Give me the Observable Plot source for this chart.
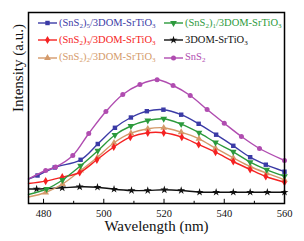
<!DOCTYPE html>
<html><head><meta charset="utf-8">
<script src="https://cdn.jsdelivr.net/npm/d3@7"></script>
<script src="https://cdn.jsdelivr.net/npm/@observablehq/plot@0.6"></script>
<style>
body{margin:0;background:#fff;}
#wrap{position:relative;width:304px;height:241px;font-family:"Liberation Serif",serif;}
#wrap svg, #wrap svg text{font-family:"Liberation Serif",serif !important;}
.leg{position:absolute;height:14px;display:flex;align-items:center;font-size:10.5px;white-space:nowrap;line-height:1;font-family:"Liberation Serif",serif;}
.leg svg{margin-right:2px;overflow:visible;}
.leg sub{font-size:7px;vertical-align:-2px;line-height:0;}
</style></head><body><div id="wrap"></div>
<script>
// Wavelength (nm) and intensity (a.u.)
const sns5Nm  = [475, 478, 483.7, 492.3, 498, 503.7, 509, 514.3, 519.8, 525.7, 531.5, 537.3, 543, 548.6, 553.8, 560];
const sns5Int = [245, 280, 360, 437, 595, 757, 860, 923, 938, 888, 797, 688, 577, 463, 388, 318];
const sns1Nm  = [475, 481, 486.3, 492.3, 498, 503.7, 509, 514.6, 519.9, 525.7, 531.6, 537.1, 543, 548.6, 554.1, 560];
const sns1Int = [90, 145, 235, 377, 527, 685, 775, 830, 847, 793, 708, 610, 517, 413, 337, 273];
const sns3Nm  = [475, 480.7, 486.2, 492, 497.7, 503.3, 508.8, 514.6, 519.9, 525.9, 531.5, 537.1, 543, 548.6, 553.8, 560];
const sns3Int = [200, 224, 263, 310, 437, 565, 663, 707, 707, 663, 590, 513, 420, 340, 270, 213];
const dsNm    = [475, 477.7, 486.2, 492, 497.9, 503.4, 509.2, 514.6, 520.1, 525.7, 531.8, 537.3, 543, 548.6, 554.3, 560];
const dsInt   = [145, 145, 157, 167, 163, 143, 130, 130, 137, 130, 113, 113, 113, 113, 113, 113];
const sns2Nm  = [475, 480.7, 486.3, 492.3, 497.9, 503.4, 509, 514.6, 519.9, 525.7, 531.6, 537.1, 543, 548.6, 554.1, 560];
const sns2Int = [65, 110, 195, 330, 463, 607, 703, 747, 757, 713, 647, 553, 457, 370, 303, 237];
const snsNm   = [475, 480.7, 484, 489.7, 495, 500.7, 506.3, 512, 517.7, 523, 528.7, 534.3, 540, 545.7, 551.7, 560];
const snsInt  = [245, 330, 365, 480, 700, 920, 1090, 1190, 1237, 1180, 1080, 940, 803, 670, 550, 430];

const xTicks = [480, 500, 520, 540, 560];
const xMinor = [490, 510, 530, 550];

const series = [
  {name:"(SnS<sub>2</sub>)<sub>5</sub>/3DOM-SrTiO<sub>3</sub>", nm:sns5Nm, v:sns5Int, color:"#3b3ba6", symbol:"square", rot:0, col:0, row:0},
  {name:"(SnS<sub>2</sub>)<sub>1</sub>/3DOM-SrTiO<sub>3</sub>", nm:sns1Nm, v:sns1Int, color:"#2c9a3c", symbol:"triangle", rot:180, col:1, row:0},
  {name:"(SnS<sub>2</sub>)<sub>3</sub>/3DOM-SrTiO<sub>3</sub>", nm:sns3Nm, v:sns3Int, color:"#f52222", symbol:"diamond", rot:0, col:0, row:1},
  {name:"3DOM-SrTiO<sub>3</sub>", nm:dsNm, v:dsInt, color:"#111111", symbol:"star", rot:0, col:1, row:1},
  {name:"(SnS<sub>2</sub>)<sub>2</sub>/3DOM-SrTiO<sub>3</sub>", nm:sns2Nm, v:sns2Int, color:"#d49a6a", symbol:"triangle", rot:0, col:0, row:2},
  {name:"SnS<sub>2</sub>", nm:snsNm, v:snsInt, color:"#b04cb0", symbol:"circle", rot:0, col:1, row:2}
];

const drawOrder = [3, 4, 2, 1, 0, 5];
const marks = [];
for (const i of drawOrder) {
  const s = series[i];
  const rows = s.nm.map((x, j) => ({nm: x, v: s.v[j]}));
  marks.push(Plot.line(rows, {x:"nm", y:"v", stroke:s.color, strokeWidth:1.4, curve:"catmull-rom"}));
  marks.push(Plot.dot(rows.filter(d => d.nm > 476), {x:"nm", y:"v", fill:s.color, symbol:s.symbol, r:2.5, rotate:s.rot}));
}

const chart = Plot.plot({
  width: 304, height: 241,
  marginLeft: 28, marginRight: 20, marginTop: 12, marginBottom: 38,
  style: {fontFamily: "Liberation Serif, serif", fontSize: "10.5px", background: "white", color: "#111"},
  x: {domain: [475, 560]},
  y: {domain: [0, 1910], axis: null},
  marks: [
    ...marks,
    Plot.ruleX(xTicks, {x: d => d, y1: 0, y2: 42, stroke: "black", strokeWidth: 1}),
    Plot.ruleX(xMinor, {x: d => d, y1: 0, y2: 22, stroke: "black", strokeWidth: 1}),
    Plot.axisX({ticks: xTicks, tickSize: 0, tickPadding: 6, label: null, fontSize: 10.5}),
    Plot.frame({stroke: "black", strokeWidth: 1.5}),
    Plot.text(["Wavelength (nm)"], {frameAnchor: "bottom", dy: 23, text: d => d, fontSize: 15, lineAnchor: "middle"}),
    Plot.text(["Intensity (a.u.)"], {frameAnchor: "left", dx: -10, dy: 4, rotate: -90, text: d => d, fontSize: 15, lineAnchor: "middle"})
  ]
});
const wrap = document.getElementById("wrap");
wrap.appendChild(chart);

// Legend overlay
const symMap = {square: d3.symbolSquare, triangle: d3.symbolTriangle, diamond: d3.symbolDiamond, star: d3.symbolStar, circle: d3.symbolCircle};
const colX = [38, 164];
const rowY = [23, 40, 57.5];
for (const s of series) {
  const div = document.createElement("div");
  div.className = "leg";
  div.style.left = colX[s.col] + "px";
  div.style.top = (rowY[s.row] - 7) + "px";
  div.style.color = s.color;
  const path = d3.symbol().type(symMap[s.symbol]).size(Math.PI * 2.5 * 2.5)();
  div.innerHTML = `<svg width="19" height="14"><line x1="0" x2="19" y1="7" y2="7" stroke="${s.color}" stroke-width="1.4"/><path d="${path}" fill="${s.color}" transform="translate(9.5,7) rotate(${s.rot})"/></svg><span>${s.name}</span>`;
  wrap.appendChild(div);
}
</script></body></html>
